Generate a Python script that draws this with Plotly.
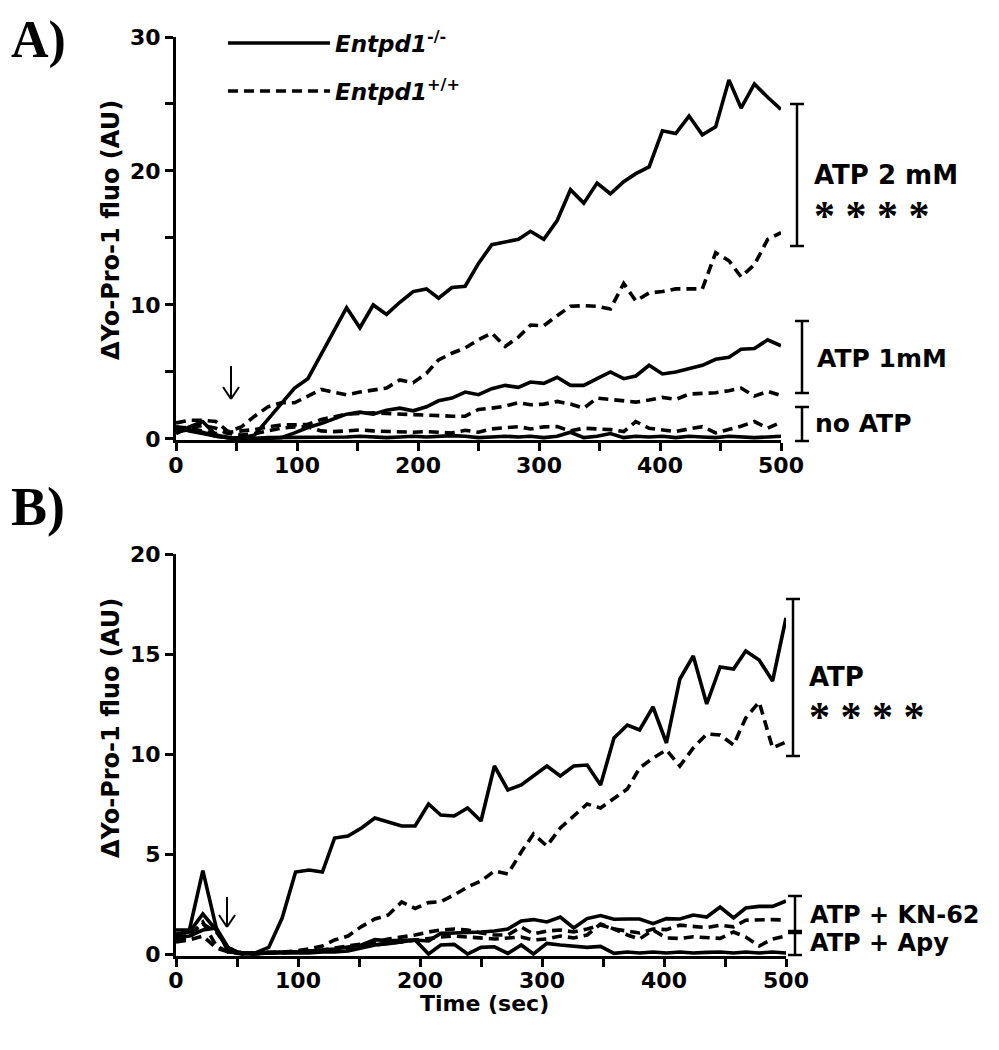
import plotly.graph_objects as go

# ---------------- data ----------------
TIME = [0, 11, 22, 33, 43, 54, 65, 76, 87, 98, 109, 120, 130, 141, 152, 163,
        174, 185, 196, 207, 217, 228, 239, 250, 261, 272, 283, 293, 304, 315,
        326, 337, 348, 359, 370, 380, 391, 402, 413, 424, 435, 446, 457, 467,
        478, 489, 500]

# Panel A
A_KO_2MM = [0.4, 0.9, 1.3, 0.3, 0.1, 0.05, 0.3, 1.5, 2.6, 3.8, 4.5, 6.3, 8.0, 9.8, 8.3,
            10.0, 9.3, 10.2, 11.0, 11.2, 10.5, 11.3, 11.4, 13.1, 14.5, 14.7, 14.9, 15.5,
            14.9, 16.3, 18.6, 17.6, 19.1, 18.3, 19.2, 19.8, 20.3, 23.0, 22.8, 24.1, 22.7,
            23.3, 26.8, 24.7, 26.5, 25.5, 24.6]
A_WT_2MM = [1.2, 1.4, 1.4, 1.3, 0.55, 0.9, 1.7, 2.4, 2.7, 2.7, 3.2, 3.7, 3.5, 3.3, 3.5,
            3.65, 3.8, 4.4, 4.2, 4.9, 5.9, 6.4, 6.8, 7.4, 7.9, 6.9, 7.6, 8.5, 8.45, 9.2,
            9.9, 9.95, 9.9, 9.7, 11.6, 10.3, 10.9, 11.0, 11.2, 11.2, 11.2, 13.9, 13.3,
            12.1, 13.0, 14.9, 15.4]
A_KO_1MM = [0.5, 0.7, 0.5, 0.2, 0.1, 0.0, 0.0, 0.05, 0.1, 0.45, 0.85, 1.15, 1.5, 1.85,
            2.0, 1.85, 2.15, 2.3, 2.1, 2.4, 2.85, 3.05, 3.5, 3.3, 3.75, 4.0, 3.85, 4.25,
            4.15, 4.6, 4.0, 4.0, 4.5, 5.0, 4.5, 4.7, 5.5, 4.85, 5.0, 5.25, 5.5, 5.95, 6.1,
            6.7, 6.75, 7.4, 6.95]
A_WT_1MM = [0.9, 0.8, 0.6, 0.4, 0.5, 0.6, 0.7, 0.9, 1.05, 1.05, 1.1, 1.45, 1.65, 1.85,
            1.9, 1.95, 1.9, 1.85, 1.8, 1.75, 1.75, 1.7, 1.7, 2.2, 2.3, 2.45, 2.7, 2.55,
            2.6, 2.8, 2.6, 2.3, 3.05, 2.95, 2.85, 2.75, 2.9, 3.1, 2.95, 3.35, 3.4, 3.45,
            3.6, 3.8, 3.2, 3.55, 3.25]
A_KO_0 = [0.9, 0.6, 0.4, 0.2, 0.1, 0.05, 0.05, 0.1, 0.1, 0.1, 0.15, 0.1, 0.1, 0.15, 0.2,
          0.15, 0.1, 0.15, 0.2, 0.15, 0.2, 0.25, 0.2, 0.1, 0.15, 0.2, 0.15, 0.2, 0.1, 0.2,
          0.5, 0.1, 0.2, 0.4, 0.1, 0.2, 0.15, 0.2, 0.1, 0.2, 0.15, 0.1, 0.2, 0.15, 0.1,
          0.15, 0.2]
A_WT_0 = [0.7, 0.9, 1.0, 0.8, 0.4, 0.3, 0.4, 0.6, 0.8, 0.9, 0.9, 0.6, 0.55, 0.6, 0.67,
          0.6, 0.55, 0.55, 0.5, 0.55, 0.5, 0.45, 0.65, 0.5, 0.75, 0.85, 0.92, 0.75, 0.9,
          0.92, 0.6, 0.8, 0.75, 0.7, 0.55, 1.3, 0.8, 0.7, 0.55, 0.75, 0.92, 0.45, 0.7,
          0.95, 1.3, 0.8, 1.25]

# Panel B
B_KO_ATP = [1.2, 1.2, 4.17, 1.3, 0.1, 0.05, 0.05, 0.33, 1.8, 4.1, 4.2, 4.1, 5.8, 5.9,
            6.3, 6.8, 6.6, 6.4, 6.4, 7.5, 6.95, 6.9, 7.3, 6.65, 9.4, 8.2, 8.45, 8.9, 9.4,
            8.9, 9.4, 9.45, 8.45, 10.8, 11.45, 11.2, 12.35, 10.55, 13.75, 14.9, 12.5,
            14.35, 14.25, 15.15, 14.7, 13.65, 16.8]
B_WT_ATP = [0.9, 0.9, 1.6, 0.4, 0.1, 0.05, 0.05, 0.1, 0.1, 0.15, 0.25, 0.4, 0.7, 0.9,
            1.37, 1.75, 1.95, 2.6, 2.28, 2.57, 2.62, 2.95, 3.35, 3.65, 4.15, 4.0, 5.1,
            6.0, 5.4, 6.3, 6.9, 7.5, 7.3, 7.8, 8.25, 9.3, 9.8, 10.2, 9.4, 10.3, 11.0,
            10.95, 10.45, 11.8, 12.6, 10.3, 10.6]
B_KO_KN62 = [1.0, 1.1, 2.0, 1.2, 0.2, 0.05, 0.05, 0.05, 0.1, 0.1, 0.15, 0.2, 0.25, 0.35,
             0.45, 0.72, 0.66, 0.68, 0.7, 0.65, 1.03, 1.05, 1.06, 1.1, 1.15, 1.25, 1.65,
             1.72, 1.6, 1.85, 1.3, 1.77, 1.92, 1.74, 1.75, 1.75, 1.52, 1.77, 1.75, 1.95,
             1.85, 2.35, 1.8, 2.3, 2.38, 2.38, 2.65]
B_WT_KN62 = [0.7, 0.8, 1.5, 1.1, 0.3, 0.05, 0.05, 0.05, 0.1, 0.1, 0.15, 0.2, 0.3, 0.4,
             0.5, 0.6, 0.75, 0.85, 0.95, 1.1, 1.2, 1.25, 1.2, 1.05, 0.95, 0.95, 1.35, 1.0,
             1.15, 1.2, 1.1, 1.25, 1.45, 1.25, 1.15, 1.05, 1.25, 1.22, 1.44, 1.39, 1.32,
             1.44, 1.36, 1.69, 1.72, 1.72, 1.7]
B_KO_APY = [0.8, 0.9, 1.2, 1.3, 0.3, 0.0, 0.0, 0.05, 0.05, 0.05, 0.05, 0.1, 0.1, 0.15,
            0.3, 0.45, 0.52, 0.6, 0.7, 0.0, 0.45, 0.48, 0.0, 0.33, 0.36, 0.03, 0.45, 0.0,
            0.53, 0.45, 0.4, 0.33, 0.38, 0.03, 0.1, 0.05, 0.1, 0.05, 0.1, 0.05, 0.08, 0.1,
            0.05, 0.1, 0.05, 0.1, 0.05]
B_WT_APY = [0.6, 0.7, 0.9, 0.3, 0.1, 0.0, 0.0, 0.05, 0.05, 0.1, 0.1, 0.15, 0.2, 0.3,
            0.35, 0.45, 0.55, 0.6, 0.7, 0.8, 0.85, 0.9, 0.85, 0.8, 0.75, 0.8, 0.85, 0.7,
            0.75, 0.9, 0.8, 0.95, 1.5, 1.25, 0.95, 0.75, 1.2, 0.8, 0.78, 0.86, 0.82, 0.78,
            1.1, 0.85, 0.4, 0.75, 0.9]

X_TICKS = [0, 100, 200, 300, 400, 500]
Y_TICKS_A = [0, 10, 20, 30]
Y_TICKS_B = [0, 5, 10, 15, 20]

# ---------------- styling ----------------
OFF = 8                      # page body margin
W, H = 999 - 2 * OFF, 1050 - 2 * OFF
FONT = "DejaVu Sans"
LW = 3.6
DASH = "10px,6px"
BLACK = "#000000"


def fx(p):
    return (p - OFF) / W


def fy(p):
    return 1 - (p - OFF) / H


fig = go.Figure()

panel_a = [(A_KO_2MM, "solid"), (A_WT_2MM, DASH), (A_KO_1MM, "solid"),
           (A_WT_1MM, DASH), (A_WT_0, DASH), (A_KO_0, "solid")]
for ys, dash in panel_a:
    fig.add_trace(go.Scatter(x=TIME, y=ys, mode="lines", xaxis="x", yaxis="y",
                             line=dict(color=BLACK, width=LW, dash=dash),
                             showlegend=False, hoverinfo="skip"))

panel_b = [(B_WT_ATP, DASH), (B_KO_ATP, "solid"), (B_WT_KN62, DASH),
           (B_WT_APY, DASH), (B_KO_KN62, "solid"), (B_KO_APY, "solid")]
for ys, dash in panel_b:
    fig.add_trace(go.Scatter(x=TIME, y=ys, mode="lines", xaxis="x2", yaxis="y2",
                             line=dict(color=BLACK, width=LW, dash=dash),
                             showlegend=False, hoverinfo="skip"))

tickfont = dict(family=FONT, size=22, color=BLACK, weight="bold")
common = dict(showline=True, linewidth=3, linecolor=BLACK, ticks="outside",
              ticklen=8, tickwidth=3, tickcolor=BLACK, showgrid=False,
              zeroline=False, tickfont=tickfont, automargin=False)
minor = dict(ticks="outside", ticklen=8, tickwidth=3, tickcolor=BLACK, showgrid=False)

fig.update_layout(
    width=W, height=H,
    margin=dict(l=0, r=0, t=0, b=0),
    paper_bgcolor="white", plot_bgcolor="white",
    showlegend=False,
    xaxis=dict(domain=[fx(176), fx(781)], range=[0, 500], anchor="y",
               tickvals=X_TICKS, ticklabelstandoff=-5,
               minor=dict(dtick=50, tick0=0, **minor), **common),
    yaxis=dict(domain=[fy(440.3), fy(37)], range=[-0.1, 30], anchor="x",
               tickvals=Y_TICKS_A, minor=dict(dtick=5, tick0=0, **minor), **common),
    xaxis2=dict(domain=[fx(176), fx(786)], range=[0, 500], anchor="y2",
                tickvals=X_TICKS, ticklabelstandoff=-5,
                minor=dict(dtick=50, tick0=0, **minor), **common),
    yaxis2=dict(domain=[fy(956), fy(554)], range=[-0.1, 20], anchor="x2",
                tickvals=Y_TICKS_B, **common),
)

shapes = []
annots = []


def seg(x0, y0, x1, y1, w=2.5, dash="solid"):
    shapes.append(dict(type="line", xref="paper", yref="paper",
                       x0=fx(x0), y0=fy(y0), x1=fx(x1), y1=fy(y1),
                       line=dict(color=BLACK, width=w, dash=dash)))


def bracket(xc, ytop, ybot, half=7):
    seg(xc, ytop, xc, ybot)
    seg(xc - half, ytop, xc + half, ytop)
    seg(xc - half, ybot, xc + half, ybot)


def text(x, y, s, size=25, family=FONT, anchor="left", yanchor="middle"):
    annots.append(dict(xref="paper", yref="paper", x=fx(x), y=fy(y), text=s,
                       showarrow=False, xanchor=anchor, yanchor=yanchor,
                       font=dict(family=family, size=size, color=BLACK)))


def arrow(x, ytop, ytip, half=8, head=12):
    seg(x, ytop, x, ytip, w=2)
    seg(x - half, ytip - head, x, ytip, w=2)
    seg(x + half, ytip - head, x, ytip, w=2)


# legend
seg(228, 43, 330, 43, w=LW)
seg(228, 91, 330, 91, w=LW, dash=DASH)
text(333, 42, "<b><i>Entpd1</i></b><sup><b>-/-</b></sup>", size=23)
text(333, 90, "<b><i>Entpd1</i></b><sup><b>+/+</b></sup>", size=23)

# brackets and labels panel A
bracket(797, 104, 246)
text(812, 175, "<b>ATP 2 mM</b>", size=26)
text(812, 216, "<b>* * * *</b>", size=42, family="Liberation Serif")
bracket(802, 321, 393)
text(815, 358, "<b>ATP 1mM</b>", size=25)
bracket(802, 407, 441)
text(813, 423, "<b>no ATP</b>", size=25)

# brackets and labels panel B
bracket(793, 599, 756)
text(807, 677, "<b>ATP</b>", size=26)
text(807, 717, "<b>* * * *</b>", size=42, family="Liberation Serif")
bracket(795, 896, 931)
bracket(795, 933, 955)
text(808, 915, "<b>ATP + KN-62</b>", size=24)
text(808, 943, "<b>ATP + Apy</b>", size=24)

# arrows marking ATP addition
arrow(231, 366, 399)
arrow(227, 897, 927)

# axis titles
for yc in (230, 728):
    annots.append(dict(xref="paper", yref="paper", x=fx(111), y=fy(yc),
                       text="<b>\u0394Yo-Pro-1 fluo (AU)</b>", textangle=-90,
                       showarrow=False, xanchor="center", yanchor="middle",
                       font=dict(family=FONT, size=24, color=BLACK)))
text(484, 1003, "<b>Time (sec)</b>", size=22, anchor="center")

# panel letters
text(9, 9, "<b>A)</b>", size=52, family="Liberation Serif", yanchor="top")
text(9, 507, "<b>B)</b>", size=54, family="Liberation Serif")

fig.update_layout(shapes=shapes, annotations=annots)
fig.write_html("out.html")
